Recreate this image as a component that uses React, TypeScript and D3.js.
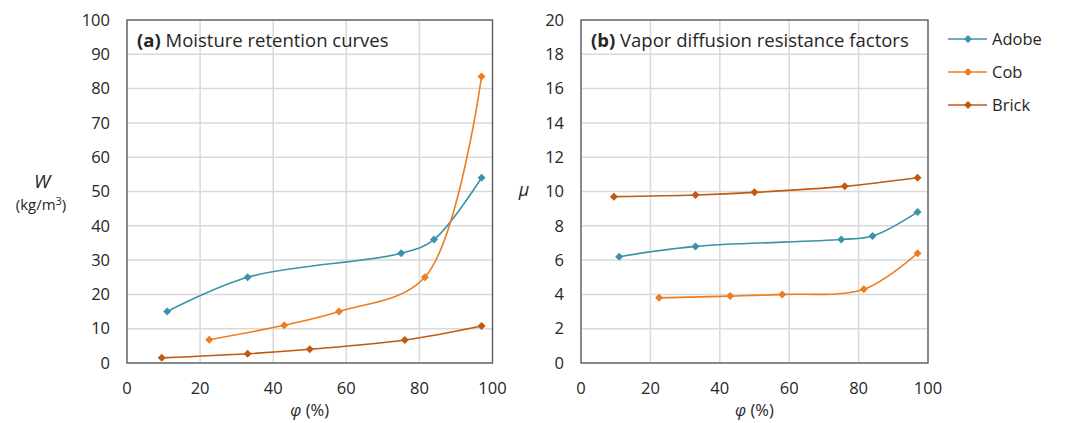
import React from "react";
import * as d3 from "d3";

const seriesNames = ["Adobe", "Cob", "Brick"];
const seriesColors = ["#3A93A8", "#ED7D22", "#C2590F"];

const adobeW: [number, number][] = [[11, 15], [33, 25], [75, 32], [84, 36], [97, 54]];
const cobW: [number, number][] = [[22.5, 6.8], [43, 11], [58, 15], [81.5, 25], [97, 83.5]];
const brickW: [number, number][] = [[9.5, 1.5], [33, 2.7], [50, 4], [76, 6.7], [97, 10.8]];

const adobeMu: [number, number][] = [[11, 6.2], [33, 6.8], [75, 7.2], [84, 7.4], [97, 8.8]];
const cobMu: [number, number][] = [[22.5, 3.8], [43, 3.9], [58, 4.0], [81.5, 4.3], [97, 6.4]];
const brickMu: [number, number][] = [[9.5, 9.7], [33, 9.8], [50, 9.95], [76, 10.3], [97, 10.8]];

const xTicks = [0, 20, 40, 60, 80, 100];
const yTicksA = [0, 10, 20, 30, 40, 50, 60, 70, 80, 90, 100];
const yTicksB = [0, 2, 4, 6, 8, 10, 12, 14, 16, 18, 20];

const FONT = "'Open Sans', sans-serif";

function Diamond({ x, y, color }: { x: number; y: number; color: string }) {
  const r = 4;
  return <path d={`M${x},${y - r}L${x + r},${y}L${x},${y + r}L${x - r},${y}Z`} fill={color} />;
}

function Panel({
  left, right, top, bottom, yMax, yTicks, data, bold, title,
}: {
  left: number; right: number; top: number; bottom: number; yMax: number; yTicks: number[];
  data: [number, number][][]; bold: string; title: string;
}) {
  const x = d3.scaleLinear().domain([0, 100]).range([left, right]);
  const y = d3.scaleLinear().domain([0, yMax]).range([bottom, top]);
  const line = d3.line<[number, number]>().x(d => x(d[0])).y(d => y(d[1])).curve(d3.curveCatmullRom.alpha(0.5));
  return (
    <g>
      {xTicks.map(t => (
        <line key={"gx" + t} x1={x(t)} x2={x(t)} y1={top} y2={bottom} stroke="#D9D9D9" strokeWidth={1.5} />
      ))}
      {yTicks.map(t => (
        <line key={"gy" + t} x1={left} x2={right} y1={y(t)} y2={y(t)} stroke="#D9D9D9" strokeWidth={1.5} />
      ))}
      <rect x={left} y={top} width={right - left} height={bottom - top} fill="none" stroke="#595959" strokeWidth={1.3} />
      {yTicks.map(t => (
        <text key={"ty" + t} x={left - 17} y={y(t)} dy="0.35em" textAnchor="end" fontSize={16.5} fill="#262626" fontFamily={FONT}>{t}</text>
      ))}
      {xTicks.map(t => (
        <text key={"tx" + t} x={x(t)} y={bottom + 25} dy="0.35em" textAnchor="middle" fontSize={16.5} fill="#262626" fontFamily={FONT}>{t}</text>
      ))}
      <text x={(left + right) / 2} y={bottom + 47} dy="0.35em" textAnchor="middle" fontSize={16.5} fill="#262626" fontFamily={FONT}>
        <tspan fontStyle="italic">φ</tspan> (%)
      </text>
      <text x={left + 10} y={top + 21} dy="0.35em" fontSize={18.5} fill="#262626" fontFamily={FONT}>
        <tspan fontWeight="bold">{bold}</tspan> {title}
      </text>
      {data.map((s, i) => (
        <g key={"s" + i}>
          <path d={line(s) || ""} fill="none" stroke={seriesColors[i]} strokeWidth={1.6} />
          {s.map((p, j) => <Diamond key={j} x={x(p[0])} y={y(p[1])} color={seriesColors[i]} />)}
        </g>
      ))}
    </g>
  );
}

export default function App() {
  const top = 20, bottom = 363;
  return (
    <svg width={1070} height={423} style={{ position: "absolute", left: 0, top: 0, background: "#fff" }}>
      <rect width={1070} height={423} fill="#fff" />
      <Panel left={127} right={492.5} top={top} bottom={bottom} yMax={100} yTicks={yTicksA}
        data={[adobeW, cobW, brickW]} bold="(a)" title="Moisture retention curves" />
      <Panel left={581} right={928} top={top} bottom={bottom} yMax={20} yTicks={yTicksB}
        data={[adobeMu, cobMu, brickMu]} bold="(b)" title="Vapor diffusion resistance factors" />
      <text x={42} y={181} dy="0.35em" textAnchor="middle" fontSize={19} fontStyle="italic" fill="#262626" fontFamily={FONT}>W</text>
      <text x={41} y={205} dy="0.35em" textAnchor="middle" fontSize={15} fill="#262626" fontFamily={FONT}>
        (kg/m<tspan dy="-5" fontSize={11}>3</tspan><tspan dy="5">)</tspan>
      </text>
      <text x={524} y={190} dy="0.35em" textAnchor="middle" fontSize={18} fontStyle="italic" fill="#262626" fontFamily={FONT}>μ</text>
      {seriesNames.map((n, i) => {
        const ly = 39 + i * 33;
        return (
          <g key={n}>
            <line x1={948} x2={987} y1={ly} y2={ly} stroke={seriesColors[i]} strokeWidth={1.6} />
            <Diamond x={968} y={ly} color={seriesColors[i]} />
            <text x={992} y={ly} dy="0.35em" fontSize={16.5} fill="#262626" fontFamily={FONT}>{n}</text>
          </g>
        );
      })}
    </svg>
  );
}
